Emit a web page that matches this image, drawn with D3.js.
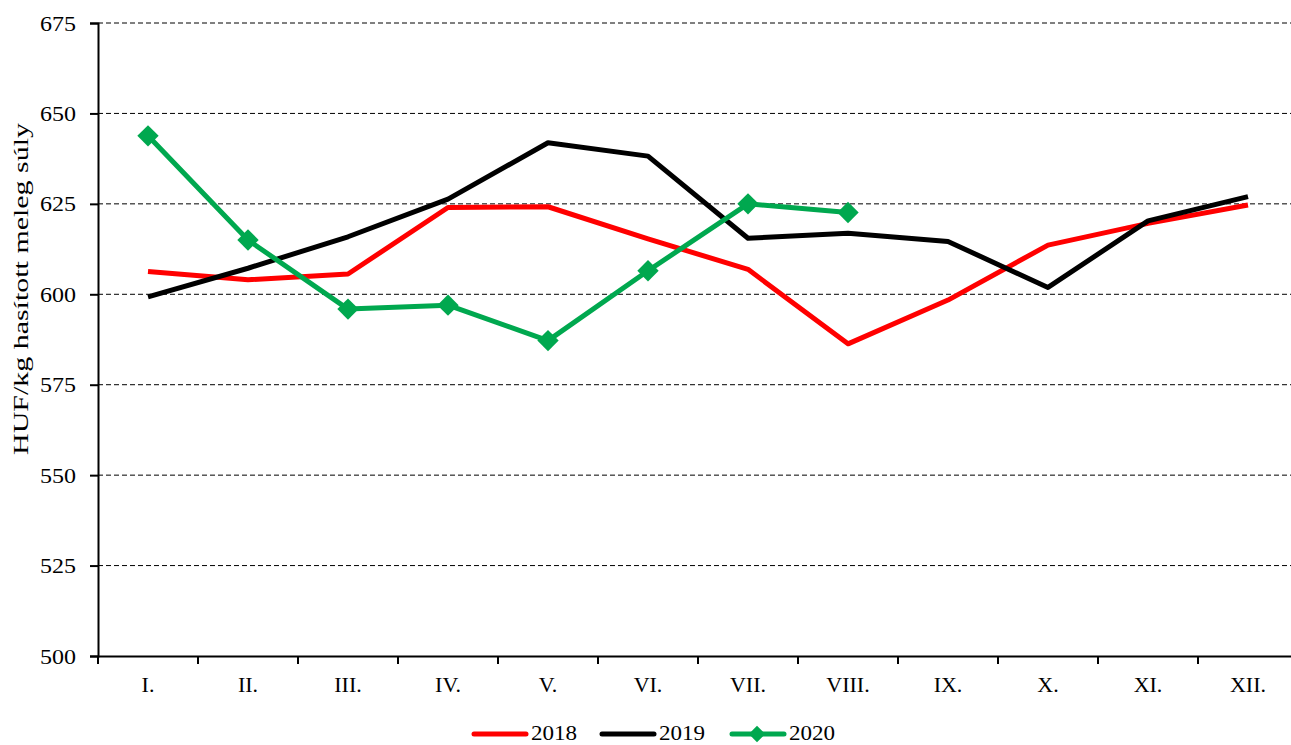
<!DOCTYPE html>
<html>
<head>
<meta charset="utf-8">
<script src="https://cdn.jsdelivr.net/npm/d3@7"></script>
<style>
    body { margin: 0; background: #fff; }
    svg text { font-family: "Liberation Serif", "Times New Roman", serif; fill: #000; }
</style>
</head>
<body>
<div id="chart"></div>
<script>
var months = ['I.', 'II.', 'III.', 'IV.', 'V.', 'VI.', 'VII.', 'VIII.', 'IX.', 'X.', 'XI.', 'XII.'];
var values2018 = [606.3, 604.0, 605.6, 624.0, 624.2, 615.3, 606.9, 586.3, 598.4, 613.6, 619.6, 624.7];
var values2019 = [599.3, 607.2, 615.9, 626.3, 641.9, 638.2, 615.5, 616.9, 614.6, 601.9, 620.3, 627.0];
var values2020 = [643.8, 615.0, 595.9, 597.0, 587.2, 606.5, 625.0, 622.6];
var yTicks = [500, 525, 550, 575, 600, 625, 650, 675];
var yLabel = 'HUF/kg hasított meleg súly';

var series = [
    {name: '2018', color: '#ff0000', values: values2018, marker: false},
    {name: '2019', color: '#000000', values: values2019, marker: false},
    {name: '2020', color: '#00a84f', values: values2020, marker: true}
];

var width = 1291, height = 745;
var margin = {left: 98, right: 1298, top: 23, bottom: 656};

var svg = d3.select('#chart').append('svg')
    .attr('width', width)
    .attr('height', height);

var x = d3.scaleBand().domain(months).range([margin.left, margin.right]);
var y = d3.scaleLinear().domain([500, 675]).range([margin.bottom, margin.top]);

// gridlines
svg.append('g').selectAll('line')
    .data(yTicks.filter(function(d) { return d > 500; }))
    .enter().append('line')
    .attr('x1', margin.left)
    .attr('x2', margin.right)
    .attr('y1', function(d) { return y(d); })
    .attr('y2', function(d) { return y(d); })
    .attr('stroke', '#000')
    .attr('stroke-width', 1)
    .attr('stroke-dasharray', '5,3');

// y axis
var yAxis = svg.append('g')
    .attr('transform', 'translate(' + margin.left + ',0)')
    .call(d3.axisLeft(y).tickValues(yTicks).tickSize(8).tickPadding(14));
yAxis.select('.domain').attr('stroke-width', 2);
yAxis.selectAll('.tick line').attr('stroke-width', 2);
yAxis.selectAll('.tick text')
    .style('font-size', '22px')
    .attr('textLength', 36)
    .attr('lengthAdjust', 'spacingAndGlyphs');

// x axis
var xAxis = svg.append('g')
    .attr('transform', 'translate(0,' + margin.bottom + ')')
    .call(d3.axisBottom(x).tickSize(0).tickPadding(20));
xAxis.select('.domain').attr('stroke-width', 2);
xAxis.selectAll('.tick text').style('font-size', '22px');

// category separator ticks
var sepPos = months.map(function(m) { return x(m); }).concat([margin.right]);
xAxis.selectAll('.sep')
    .data(sepPos)
    .enter().append('line')
    .attr('class', 'sep')
    .attr('x1', function(d) { return d; })
    .attr('x2', function(d) { return d; })
    .attr('y1', 0)
    .attr('y2', 8)
    .attr('stroke', '#000')
    .attr('stroke-width', 2);

// y axis title
svg.append('text')
    .attr('transform', 'translate(28,289) rotate(-90)')
    .attr('text-anchor', 'middle')
    .attr('textLength', 332)
    .attr('lengthAdjust', 'spacingAndGlyphs')
    .style('font-size', '22px')
    .text(yLabel);

var line = d3.line()
    .x(function(d, i) { return x(months[i]) + x.bandwidth() / 2; })
    .y(function(d) { return y(d); });

var diamond = d3.symbol().type(d3.symbolDiamond2).size(290);

series.forEach(function(s) {
    svg.append('path')
        .datum(s.values)
        .attr('fill', 'none')
        .attr('stroke', s.color)
        .attr('stroke-width', 5)
        .attr('stroke-linejoin', 'round')
        .attr('d', line);

    if (s.marker) {
        svg.append('g').selectAll('path')
            .data(s.values)
            .enter().append('path')
            .attr('d', diamond)
            .attr('fill', s.color)
            .attr('transform', function(d, i) {
                return 'translate(' + (x(months[i]) + x.bandwidth() / 2) + ',' + y(d) + ')';
            });
    }
});

// legend
var legendX = [472, 600, 730];
var legend = svg.append('g');
series.forEach(function(s, i) {
    var g = legend.append('g').attr('transform', 'translate(' + legendX[i] + ',734)');
    g.append('line')
        .attr('x1', 2).attr('x2', 54)
        .attr('y1', 0).attr('y2', 0)
        .attr('stroke', s.color)
        .attr('stroke-width', 5)
        .attr('stroke-linecap', 'round');
    if (s.marker) {
        g.append('path')
            .attr('d', d3.symbol().type(d3.symbolDiamond2).size(170))
            .attr('fill', s.color)
            .attr('transform', 'translate(27,0)');
    }
    g.append('text')
        .attr('x', 59)
        .attr('y', 6)
        .attr('textLength', 46)
        .attr('lengthAdjust', 'spacingAndGlyphs')
        .style('font-size', '21px')
        .text(s.name);
});
</script>
</body>
</html>
